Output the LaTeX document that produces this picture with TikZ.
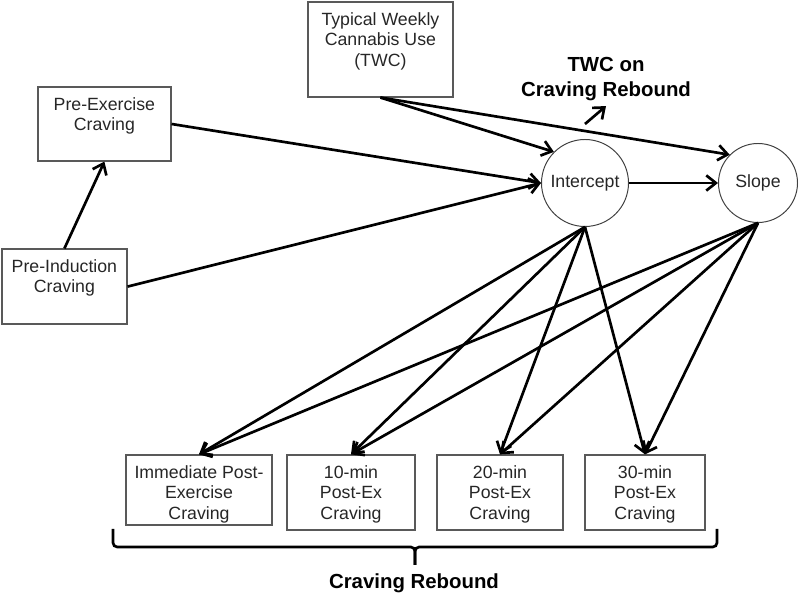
\documentclass[tikz,border=0pt]{standalone}
\usepackage{fontspec}
\setmainfont{Liberation Sans}
\usetikzlibrary{arrows.meta}

% text box: top-aligned lines inside a box of given width and height
\newcommand{\boxtxt}[3]{\parbox[c][\dimexpr #2-0.52cm\relax][t]{#1}{\centering #3}}

\begin{document}
\begin{tikzpicture}[
    % Common Styles
    measure/.style={
        draw=black!65,
        line width=0.9pt,
        inner xsep=0pt,
        inner ysep=0.26cm,
        font=\fontsize{12.6}{14.6}\selectfont,
        text=black!85
    },
    latent/.style={
        circle,
        draw=black!75,
        line width=0.7pt,
        inner sep=0pt,
        font=\fontsize{12.6}{14.6}\selectfont,
        text=black!85
    },
    effect/.style={
        line width=1.9pt,
        -{Straight Barb[length=2.4mm, width=3.8mm]}
    },
    brace_line/.style={
        line width=1.9pt,
        rounded corners=3pt
    },
    label_text/.style={
        font=\fontsize{14.5}{17.8}\selectfont\bfseries,
        align=center,
        inner sep=0pt
    }
]
    \useasboundingbox (0,0) rectangle (20,14.875);

    % ================= PREDICTORS =================
    \node[measure] (twc) at (9.51,13.64)
        {\boxtxt{3.625cm}{2.375cm}{Typical Weekly\\Cannabis Use\\(TWC)}};
    \node[measure] (preex) at (2.61,11.775)
        {\boxtxt{3.325cm}{1.85cm}{Pre-Exercise\\Craving}};
    \node[measure] (preind) at (1.61,7.71)
        {\boxtxt{3.125cm}{1.875cm}{Pre-Induction\\Craving}};

    % ================= GROWTH FACTORS =================
    \node[latent, minimum size=2.175cm] (intercept) at (14.625,10.3) {Intercept};
    \node[latent, minimum size=1.975cm] (slope) at (18.95,10.3) {Slope};

    % ================= REPEATED MEASURES =================
    \node[measure] (imm) at (4.975,2.625)
        {\boxtxt{3.65cm}{1.75cm}{Immediate Post-\\Exercise\\Craving}};
    \node[measure] (m10) at (8.775,2.5625)
        {\boxtxt{3.2cm}{1.875cm}{10-min\\Post-Ex\\Craving}};
    \node[measure] (m20) at (12.5,2.5625)
        {\boxtxt{3.15cm}{1.875cm}{20-min\\Post-Ex\\Craving}};
    \node[measure] (m30) at (16.125,2.5625)
        {\boxtxt{3.0cm}{1.875cm}{30-min\\Post-Ex\\Craving}};

    % Labels
    \node[label_text] (twcrb) at (15.15,12.9) {TWC on\\Craving Rebound};
    \node[label_text, anchor=base] (rebound) at (10.35,0.15) {Craving Rebound};

    % Edges
    \draw[effect] (preind.north) -- (preex.south);
    \draw[effect] (preex.east) -- (intercept.west);
    \draw[effect] (preind.east) -- (intercept.west);
    \draw[effect] (twc.south) -- (intercept.north west);
    \draw[effect] (twc.south) -- (slope.north west);
    \draw[effect] (intercept.east) -- (slope.west);

    % Loadings on the repeated measures
    \foreach \t in {imm, m10, m20, m30} {
        \draw[effect] (intercept.south) -- (\t.north);
        \draw[effect] (slope.south) -- (\t.north);
    }

    % Moderation arrow
    \coordinate (modstart) at (14.625,11.775);
    \draw[effect] (modstart) -- ([yshift=-0.125cm]twcrb.south);

    % Brace under the repeated measures
    \coordinate (brL) at (2.825,1.65);
    \coordinate (brR) at (17.925,1.65);
    \coordinate (brMid) at (10.375,1.2);
    \coordinate (brTip) at (10.375,0.75);
    \draw[brace_line] (brL) |- (brMid) -- (brTip);
    \draw[brace_line] (brR) |- (brMid) -- (brTip);

\end{tikzpicture}
\end{document}
